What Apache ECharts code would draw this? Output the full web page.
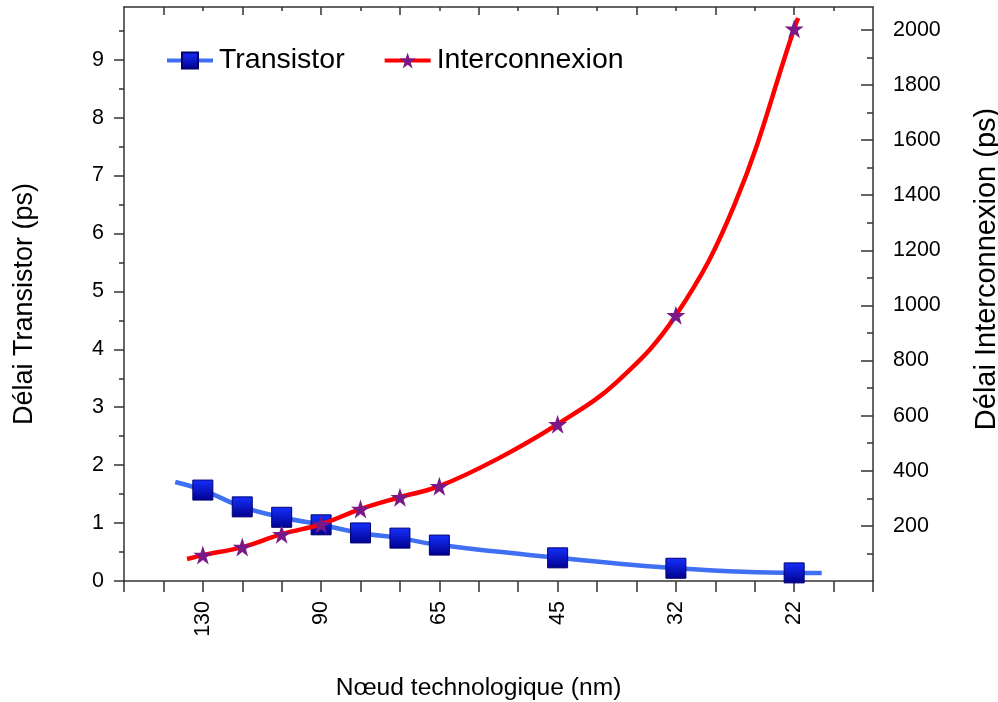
<!DOCTYPE html>
<html>
<head>
<meta charset="utf-8">
<script src="https://cdn.jsdelivr.net/npm/echarts@6/dist/echarts.min.js"></script>
<style>
html,body{margin:0;padding:0;background:#fff;}
#c{width:998px;height:702px;}
</style>
</head>
<body>
<div id="c"></div>
<script>
// Technology nodes (nm) and their position along the x axis
const nodeLabels = ['130', '90', '65', '45', '32', '22'];
const nodePositions = [0, 3, 6, 9, 12, 15];

// Positions of the measured points
const pointX = [0, 1, 2, 3, 4, 5, 6, 9, 12, 15];
// Transistor delay (ps), left axis
const transistorDelay = [1.57, 1.28, 1.10, 0.97, 0.83, 0.74, 0.62, 0.40, 0.22, 0.14];
// Interconnect delay (ps), right axis
const interconnectDelay = [94, 123, 170, 206, 261, 304, 344, 569, 964, 2004];

// Fitted curve extensions / extra points
const transistorCurveStart = [-0.7, 1.71];
const transistorCurveEnd = [15.7, 0.14];
const interconnectCurveStart = [-0.4, 80];
const interconnectCurveMid = [[7.5, 445], [10.5, 722], [13.5, 1370]];
const interconnectCurveEnd = [15.1, 2043];

const FONT = 'Liberation Sans, Arial, sans-serif';
const AX = '#333';

function range(a, b, s) { const r = []; for (let v = a; v <= b + 1e-9; v += s) r.push(+v.toFixed(4)); return r; }

const starPath = 'path://M50,0 L61.8,35.4 L99,35.4 L68.9,57.3 L80.3,92.7 L50,70.8 L19.7,92.7 L31.1,57.3 L1,35.4 L38.2,35.4 Z';

const tData = [{value: transistorCurveStart, symbol: 'none'}];
pointX.forEach((x, i) => tData.push([x, transistorDelay[i]]));
tData.push({value: transistorCurveEnd, symbol: 'none'});

const iPts = pointX.map((x, i) => [x, interconnectDelay[i]]);
interconnectCurveMid.forEach(p => iPts.push({value: p, symbol: 'none'}));
iPts.sort((a, b) => (a.value || a)[0] - (b.value || b)[0]);
const iData = [{value: interconnectCurveStart, symbol: 'none'}].concat(iPts, [{value: interconnectCurveEnd, symbol: 'none'}]);

const XMIN = -2, XMAX = 17, LMAX = 9.91, RMAX = 2083;
const line = {show: true, onZero: false, lineStyle: {color: AX, width: 1.5}};
const noLine = {show: false, onZero: false};

const chart = echarts.init(document.getElementById('c'), null, {renderer: 'canvas'});
chart.setOption({
  animation: false,
  backgroundColor: '#fff',
  grid: {left: 124, right: 125, top: 7, bottom: 121, containLabel: false, outerBoundsMode: 'none'},
  legend: {
    left: 160, top: 41,
    itemWidth: 46, itemHeight: 20, itemGap: 38,
    lineStyle: {width: 4},
    textStyle: {fontFamily: FONT, fontSize: 28.5, color: '#000', padding: [0, 0, 0, 1]},
    data: ['Transistor', 'Interconnexion']
  },
  xAxis: [
    {
      type: 'value', position: 'bottom', min: XMIN, max: XMAX, interval: 1,
      axisLine: line,
      axisTick: {show: true, inside: false, length: 11, lineStyle: {color: AX, width: 1.5}, customValues: range(XMIN, XMAX, 1)},
      axisLabel: {
        customValues: nodePositions, rotate: 90, margin: 20,
        fontFamily: FONT, fontSize: 21.5, color: '#000',
        formatter: v => { const k = nodePositions.indexOf(Math.round(v)); return k >= 0 ? nodeLabels[k] : ''; }
      },
      splitLine: {show: false},
      name: 'Nœud technologique (nm)', nameLocation: 'middle', nameGap: 95,
      nameTextStyle: {fontFamily: FONT, fontSize: 24.6, color: '#000', padding: [0, 40, 0, 0]}
    },
    {
      type: 'value', position: 'top', min: XMIN, max: XMAX, interval: 1,
      axisLine: line,
      axisTick: {show: true, inside: true, length: 8, lineStyle: {color: AX, width: 1.5}, customValues: range(-1, 15, 2)},
      axisLabel: {show: false}, splitLine: {show: false}
    },
    {
      type: 'value', position: 'top', min: XMIN, max: XMAX, interval: 1,
      axisLine: noLine,
      axisTick: {show: true, inside: true, length: 4, lineStyle: {color: AX, width: 1.5}, customValues: range(0, 16, 2)},
      axisLabel: {show: false}, splitLine: {show: false}
    }
  ],
  yAxis: [
    {
      type: 'value', position: 'left', min: 0, max: LMAX, interval: 1,
      axisLine: line,
      axisTick: {show: true, inside: false, length: 10, lineStyle: {color: AX, width: 1.5}, customValues: range(0, 9, 1)},
      axisLabel: {customValues: range(0, 9, 1), margin: 20, fontFamily: FONT, fontSize: 21.5, color: '#000'},
      splitLine: {show: false},
      name: 'Délai Transistor (ps)', nameLocation: 'middle', nameGap: 86, nameRotate: 90,
      nameTextStyle: {fontFamily: FONT, fontSize: 27, color: '#000', padding: [0, 20, 0, 0]}
    },
    {
      type: 'value', position: 'right', min: 0, max: RMAX, interval: 200,
      axisLine: line,
      axisTick: {show: true, inside: true, length: 12, lineStyle: {color: AX, width: 1.5}, customValues: range(200, 2000, 200)},
      axisLabel: {customValues: range(200, 2000, 200), margin: 20, fontFamily: FONT, fontSize: 21.5, color: '#000', formatter: v => String(v)},
      splitLine: {show: false},
      name: 'Délai Interconnexion (ps)', nameLocation: 'middle', nameGap: 99, nameRotate: 90,
      nameTextStyle: {fontFamily: FONT, fontSize: 29, color: '#000', padding: [0, 0, 0, 50]}
    },
    {
      type: 'value', position: 'left', min: 0, max: LMAX,
      axisLine: noLine,
      axisTick: {show: true, inside: false, length: 5, lineStyle: {color: AX, width: 1.5}, customValues: range(0.5, 9.5, 1)},
      axisLabel: {show: false}, splitLine: {show: false}
    },
    {
      type: 'value', position: 'right', min: 0, max: RMAX,
      axisLine: noLine,
      axisTick: {show: true, inside: true, length: 6, lineStyle: {color: AX, width: 1.5}, customValues: range(100, 1900, 200)},
      axisLabel: {show: false}, splitLine: {show: false}
    }
  ],
  series: [
    {
      name: 'Transistor', type: 'line', xAxisIndex: 0, yAxisIndex: 0,
      smooth: 0.4, symbol: 'rect', symbolSize: 20, showAllSymbol: true,
      lineStyle: {color: '#3f6ff2', width: 4.5},
      itemStyle: {
        color: new echarts.graphic.LinearGradient(0, 0, 0, 1, [{offset: 0, color: '#1530ff'}, {offset: 1, color: '#00008c'}]),
        borderColor: '#000070', borderWidth: 1
      },
      data: tData, z: 2
    },
    {
      name: 'Interconnexion', type: 'line', xAxisIndex: 0, yAxisIndex: 1,
      smooth: 0.4, symbol: starPath, symbolSize: 19, showAllSymbol: true,
      lineStyle: {color: '#ff0000', width: 4.5},
      itemStyle: {color: '#7a1887', borderColor: '#7a1887', borderWidth: 0},
      data: iData, z: 3
    }
  ]
});
</script>
</body>
</html>
